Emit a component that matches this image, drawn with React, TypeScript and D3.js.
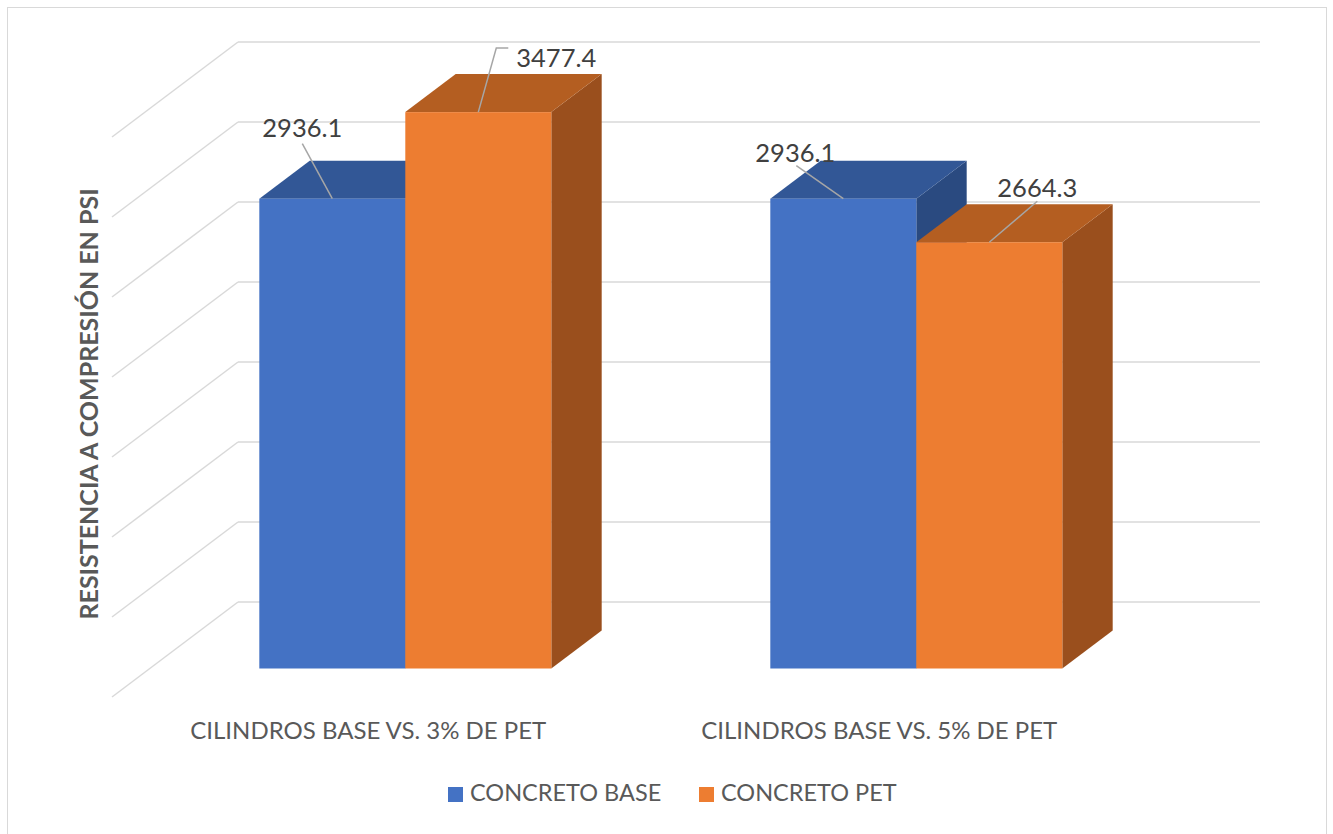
import React from "react";
import * as d3 from "d3";

const categories = ["CILINDROS BASE VS. 3% DE PET", "CILINDROS BASE VS. 5% DE PET"];
const seriesNames = ["CONCRETO BASE", "CONCRETO PET"];
const concretoBase = [2936.1, 2936.1];
const concretoPet = [3477.4, 2664.3];
const yTicks = [0, 500, 1000, 1500, 2000, 2500, 3000, 3500];
const yTitle = "RESISTENCIA A COMPRESIÓN EN PSI";

const W = 1333;
const H = 834;
const FONT = "Lato, 'Open Sans', sans-serif";

// 3D geometry
const sideX0 = 112; // front edge of side wall
const floorFrontY = 697;
const depth = { x: 126, y: -95 };
const frontF = 0.3;
const backF = 0.7;
const plotWidth = 1022;

const colors = [
  { front: "#4472C4", top: "#325796", side: "#2A4A80" },
  { front: "#ED7D31", top: "#B45E21", side: "#9A4F1D" },
];

// label placement (relative to top-front-center of bar)
const labelStyles = [
  [
    { lx: -30, ly: -55, path: "straight", tx: -30, ty: -68, anchor: "middle" },
    { lx: 18, ly: -64, path: "elbow", tx: 38, ty: -52, anchor: "start" },
  ],
  [
    { lx: -47, ly: -33, path: "straight", tx: -48, ty: -43, anchor: "middle" },
    { lx: 48, ly: -41, path: "straight", tx: 48, ty: -52, anchor: "middle" },
  ],
];

export default function App() {
  const y = d3.scaleLinear().domain([0, 3500]).range([0, 560]);
  const frontOff = { x: depth.x * frontF, y: depth.y * frontF };
  const backOff = { x: depth.x * backF, y: depth.y * backF };
  const barDepth = { x: backOff.x - frontOff.x, y: backOff.y - frontOff.y };

  const xBand = d3
    .scaleBand<string>()
    .domain(categories)
    .range([sideX0 + frontOff.x, sideX0 + plotWidth + frontOff.x])
    .paddingInner(0.4286)
    .paddingOuter(0.2143);
  const xInner = d3.scaleBand<number>().domain([0, 1]).range([0, xBand.bandwidth()]);

  const barFloorY = floorFrontY + frontOff.y;
  const backX0 = sideX0 + depth.x;
  const backFloorY = floorFrontY + depth.y;

  const series = [concretoBase, concretoPet];

  const bars: React.ReactNode[] = [];
  const labels: React.ReactNode[] = [];
  categories.forEach((cat, ci) => {
    series.forEach((vals, si) => {
      const v = vals[ci];
      const x0 = (xBand(cat) as number) + (xInner(si) as number);
      const x1 = x0 + xInner.bandwidth();
      const yt = barFloorY - y(v);
      const yb = barFloorY;
      const dx = barDepth.x;
      const dy = barDepth.y;
      const c = colors[si];
      bars.push(
        <g key={`b${ci}-${si}`}>
          <polygon
            points={`${x1},${yt} ${x1 + dx},${yt + dy} ${x1 + dx},${yb + dy} ${x1},${yb}`}
            fill={c.side}
          />
          <polygon
            points={`${x0},${yt} ${x0 + dx},${yt + dy} ${x1 + dx},${yt + dy} ${x1},${yt}`}
            fill={c.top}
          />
          <rect x={x0} y={yt} width={x1 - x0} height={yb - yt} fill={c.front} />
        </g>
      );
      const cx = (x0 + x1) / 2;
      const ls = labelStyles[ci][si];
      const path =
        ls.path === "elbow"
          ? `M${cx},${yt} L${cx + ls.lx},${yt + ls.ly} L${cx + ls.lx + 12},${yt + ls.ly}`
          : `M${cx},${yt} L${cx + ls.lx},${yt + ls.ly}`;
      labels.push(
        <g key={`l${ci}-${si}`}>
          <path d={path} stroke="#A6A6A6" strokeWidth={1.5} fill="none" />
          <text
            x={cx + ls.tx}
            y={yt + ls.ty}
            textAnchor={ls.anchor as any}
            dominantBaseline="middle"
            fontFamily={FONT}
            fontSize={25.5}
            fill="#404040"
          >
            {v.toFixed(1)}
          </text>
        </g>
      );
    });
  });

  return (
    <div style={{ position: "absolute", left: 0, top: 0 }}>
      <svg width={W} height={H} style={{ display: "block", background: "#fff" }}>
        <rect x={7.5} y={7.5} width={1319} height={840} fill="#fff" stroke="#D9D9D9" strokeWidth={1} />
        {yTicks.map((t) => (
          <g key={`g${t}`}>
            <line
              x1={sideX0}
              y1={floorFrontY - y(t)}
              x2={backX0}
              y2={backFloorY - y(t)}
              stroke="#D9D9D9"
              strokeWidth={1.5}
            />
            <line
              x1={backX0}
              y1={backFloorY - y(t)}
              x2={backX0 + plotWidth}
              y2={backFloorY - y(t)}
              stroke="#D9D9D9"
              strokeWidth={1.5}
            />
          </g>
        ))}
        {bars}
        {labels}
        {categories.map((cat) => (
          <text
            key={cat}
            x={(xBand(cat) as number) + xBand.bandwidth() / 2 - 37}
            y={733}
            textAnchor="middle"
            dominantBaseline="middle"
            fontFamily={FONT}
            fontSize={24}
            fill="#595959"
          >
            {cat}
          </text>
        ))}
        <text
          transform="translate(92,404) rotate(-90)"
          textAnchor="middle"
          dominantBaseline="middle"
          fontFamily={FONT}
          fontSize={25}
          fontWeight="bold"
          fill="#595959"
        >
          {yTitle}
        </text>
        {seriesNames.map((name, i) => {
          const lx = i === 0 ? 448 : 699;
          return (
            <g key={name}>
              <rect x={lx} y={787} width={15} height={15} fill={colors[i].front} />
              <text
                x={lx + 22}
                y={795}
                dominantBaseline="middle"
                fontFamily={FONT}
                fontSize={23.5}
                fill="#595959"
              >
                {name}
              </text>
            </g>
          );
        })}
      </svg>
    </div>
  );
}
